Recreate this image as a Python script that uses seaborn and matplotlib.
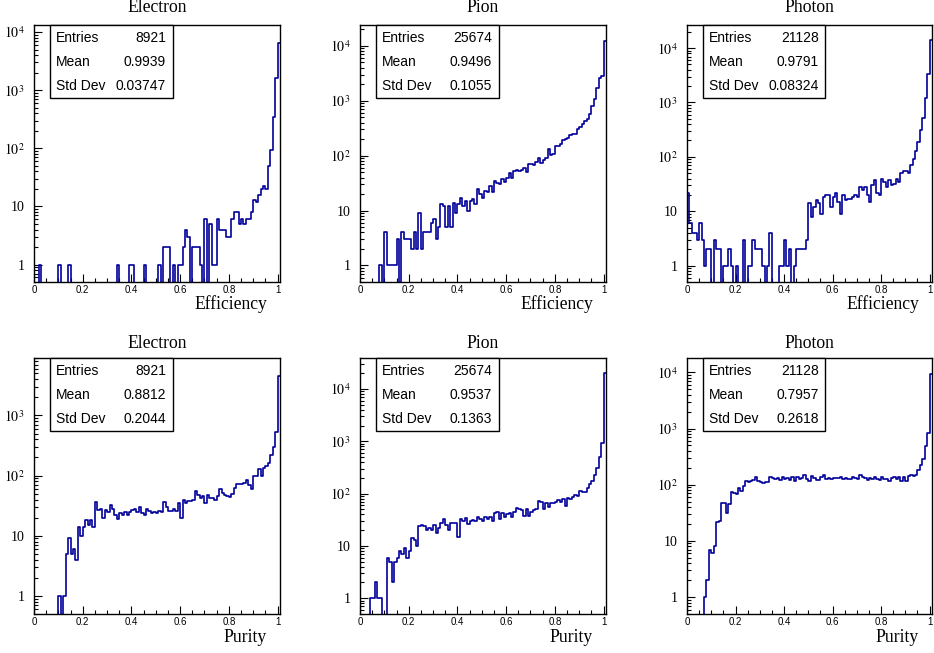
import numpy as np
import pandas as pd
import seaborn as sns
import matplotlib.pyplot as plt
from matplotlib.patches import Rectangle
from matplotlib.ticker import MultipleLocator, LogLocator, NullFormatter

# bin contents, 101 bins of width 0.01 starting at 0 (last bin is 1.00-1.01)
electron_eff = [0, 0, 1, 0, 0, 0, 0, 0, 0, 0,
                1, 0, 0, 0, 1, 0, 0, 0, 0, 0,
                0, 0, 0, 0, 0, 0, 0, 0, 0, 0,
                0, 0, 0, 0, 1, 0, 0, 0, 0, 1,
                1, 0, 0, 0, 0, 1, 0, 0, 0, 0,
                0, 1, 0, 2, 2, 2, 0, 1, 0, 1,
                1, 2, 4, 3, 0, 2, 2, 2, 1, 0,
                6, 0, 5, 1, 1, 6, 4, 4, 4, 3,
                3, 6, 8, 8, 5, 6, 5, 6, 6, 8,
                13, 12, 16, 20, 22, 20, 50, 95, 350, 1600,
                6400]
pion_eff = [0, 0, 0, 0, 0, 0, 0, 0, 1, 0,
            4, 1, 1, 1, 1, 3, 0, 4, 3, 3,
            3, 2, 4, 2, 9, 2, 4, 4, 4, 6,
            7, 3, 5, 13, 12, 5, 12, 5, 14, 9,
            13, 17, 12, 15, 10, 15, 16, 13, 25, 20,
            17, 23, 22, 28, 22, 35, 32, 30, 37, 33,
            40, 48, 40, 53, 55, 52, 55, 60, 50, 70,
            72, 68, 78, 90, 75, 85, 92, 130, 105, 108,
            150, 148, 160, 190, 200, 210, 240, 245, 250, 300,
            330, 380, 420, 470, 580, 800, 1100, 1700, 2600, 2800,
            12300]
photon_eff = [22, 6, 4, 4, 3, 6, 3, 1, 2, 2,
              0, 3, 2, 2, 0, 1, 1, 2, 1, 0,
              1, 0, 0, 3, 0, 1, 1, 3, 2, 2,
              2, 1, 0, 1, 4, 0, 0, 0, 1, 1,
              3, 1, 2, 0, 1, 2, 2, 2, 2, 3,
              14, 8, 12, 16, 14, 9, 18, 20, 20, 12,
              18, 22, 15, 9, 20, 16, 17, 17, 18, 20,
              18, 28, 25, 28, 20, 15, 30, 38, 22, 20,
              40, 35, 28, 38, 30, 32, 40, 35, 50, 55,
              55, 50, 70, 90, 130, 190, 310, 510, 1200, 3400,
              13800]
electron_pur = [0, 0, 0, 0, 0, 0, 0, 0, 0, 0,
                1, 0, 1, 5, 9, 5, 6, 4, 14, 10,
                14, 18, 15, 18, 14, 36, 27, 28, 20, 27,
                25, 32, 28, 22, 19, 24, 22, 25, 22, 25,
                27, 28, 25, 30, 24, 22, 28, 26, 24, 25,
                24, 26, 25, 36, 30, 26, 26, 28, 26, 35,
                20, 40, 35, 38, 38, 40, 55, 48, 42, 46,
                35, 48, 42, 42, 40, 45, 60, 52, 48, 46,
                44, 50, 62, 72, 72, 72, 75, 85, 70, 60,
                100, 100, 130, 100, 135, 145, 160, 220, 300, 520,
                4600]
pion_pur = [0, 0, 0, 0, 1, 1, 2, 1, 1, 0,
            0, 6, 5, 2, 5, 6, 8, 7, 9, 6,
            8, 14, 13, 10, 24, 25, 24, 20, 22, 20,
            25, 18, 22, 28, 32, 25, 20, 28, 28, 28,
            15, 33, 30, 34, 26, 30, 31, 30, 35, 33,
            30, 36, 32, 36, 30, 42, 44, 33, 43, 35,
            40, 42, 35, 44, 52, 50, 48, 38, 50, 38,
            45, 48, 50, 72, 68, 50, 65, 55, 65, 66,
            70, 75, 68, 80, 58, 82, 80, 85, 95, 90,
            110, 105, 106, 130, 153, 177, 230, 310, 490, 920,
            19900]
photon_pur = [0, 0, 0, 0, 0, 0, 0, 1, 2, 7,
              6, 8, 22, 23, 47, 47, 32, 45, 75, 72,
              68, 88, 78, 95, 115, 110, 118, 120, 135, 115,
              112, 108, 112, 110, 138, 130, 125, 130, 120, 135,
              128, 132, 120, 140, 118, 135, 128, 130, 148, 125,
              118, 145, 130, 120, 120, 140, 150, 128, 132, 125,
              130, 132, 130, 138, 128, 132, 128, 125, 135, 130,
              128, 150, 138, 132, 122, 130, 125, 138, 125, 120,
              135, 125, 128, 118, 130, 140, 128, 138, 118, 140,
              115, 145, 148, 145, 150, 180, 225, 290, 480, 840,
              9200]

titles = ["Electron", "Pion", "Photon", "Electron", "Pion", "Photon"]
xtitles = ["Efficiency"] * 3 + ["Purity"] * 3
entries = ["8921", "25674", "21128", "8921", "25674", "21128"]
means = ["0.9939", "0.9496", "0.9791", "0.8812", "0.9537", "0.7957"]
std_devs = ["0.03747", "0.1055", "0.08324", "0.2044", "0.1363", "0.2618"]
y_max = [13200, 24000, 26600, 9000, 39000, 18000]
x_ticks = [0, 0.2, 0.4, 0.6, 0.8, 1]
x_tick_labels = ["0", "0.2", "0.4", "0.6", "0.8", "1"]

counts = [electron_eff, pion_eff, photon_eff, electron_pur, pion_pur, photon_pur]

edges = list(np.linspace(0, 1.01, 102))
centers = [0.5 * (a + b) for a, b in zip(edges[:-1], edges[1:])]

sns.set_style("white")
plt.rcParams["font.family"] = ["Liberation Sans", "DejaVu Sans"]
plt.rcParams["mathtext.fontset"] = "stix"
for key in ["text.color", "axes.labelcolor", "xtick.color", "ytick.color"]:
    plt.rcParams[key] = "black"

W, H = 934, 653
fig = plt.figure(figsize=(W / 100, H / 100), dpi=100)

# axes frames in pixels: left, top, right, bottom
lefts = [34, 360, 687]
rights = [280, 606, 932]
rows = [(25, 282), (358, 614)]

line_col = "#000099"
serif = "Liberation Serif"

for i in range(6):
    r, c = divmod(i, 3)
    top, bot = rows[r]
    ax = fig.add_axes([lefts[c] / W, 1 - bot / H, (rights[c] - lefts[c]) / W, (bot - top) / H])

    df = pd.DataFrame({"x": centers, "n": counts[i]})
    sns.histplot(data=df, x="x", weights="n", bins=edges, element="step",
                 fill=False, color=line_col, linewidth=1.2, ax=ax)
    ax.set_yscale("log")
    ax.set_xlim(0, 1.01)
    ax.set_ylim(0.5, y_max[i])
    ax.set_ylabel("")

    # ticks, ROOT-like: inside, left and bottom only
    ax.set_xticks(x_ticks, labels=x_tick_labels, fontsize=7)
    ax.xaxis.set_minor_locator(MultipleLocator(0.05))
    major = [v for v in [1, 10, 100, 1000, 10000] if v <= y_max[i]]
    ylabs = [str(v) if v < 100 else "$10^{%d}$" % int(np.log10(v)) for v in major]
    ax.set_yticks(major, labels=ylabs, fontsize=10, fontfamily=serif)
    ax.yaxis.set_minor_locator(LogLocator(base=10, subs=np.arange(2, 10)))
    ax.yaxis.set_minor_formatter(NullFormatter())
    ax.tick_params(axis="both", which="major", direction="in", length=6, width=0.8,
                   color="black", bottom=True, left=True, top=False, right=False)
    ax.tick_params(axis="both", which="minor", direction="in", length=3, width=0.8,
                   color="black", bottom=True, left=True, top=False, right=False)
    ax.tick_params(axis="x", pad=2)
    ax.tick_params(axis="y", pad=7)

    for s in ax.spines.values():
        s.set_visible(True)
        s.set_color("black")
        s.set_linewidth(1.0)

    ax.set_title(titles[i], fontfamily=serif, fontsize=12.7, pad=9 if r == 0 else 7)
    ax.set_xlabel(xtitles[i], fontfamily=serif, fontsize=12.7, loc="right")
    ax.xaxis.set_label_coords(0.947, -0.051 if r == 0 else -0.059)

    # stats box
    ax.add_patch(Rectangle((0.065, 0.716), 0.5, 0.284, transform=ax.transAxes,
                           facecolor="white", edgecolor="black", linewidth=1.0,
                           zorder=4, clip_on=False))
    rows_txt = [("Entries", entries[i]), ("Mean", means[i]), ("Std Dev", std_devs[i])]
    for k, (lab, val) in enumerate(rows_txt):
        yy = 0.949 - 0.093 * k
        ax.text(0.089, yy, lab, transform=ax.transAxes, ha="left", va="center",
                fontsize=10, color="black", zorder=5)
        ax.text(0.537, yy, val, transform=ax.transAxes, ha="right", va="center",
                fontsize=10, color="black", zorder=5)

fig.savefig("out.png", dpi=100, facecolor="white")
